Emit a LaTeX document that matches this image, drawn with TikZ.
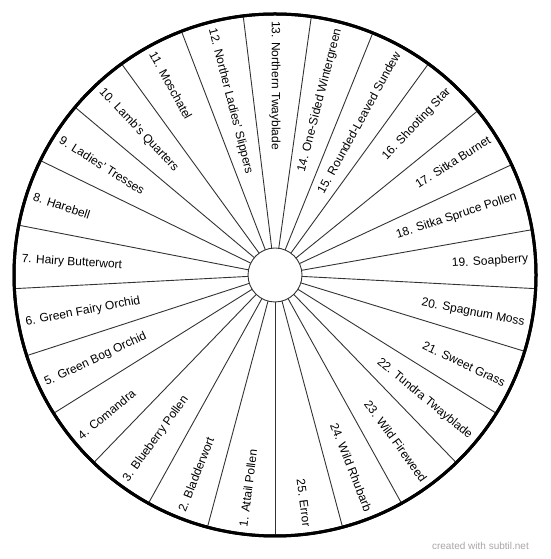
\documentclass[tikz,border=0pt]{standalone}
\usepackage{fontspec}
\setmainfont{Liberation Sans}
\usetikzlibrary{calc}
\begin{document}
\begin{tikzpicture}[x=1pt,y=1pt,
  lbl/.style={inner sep=0pt, font=\fontsize{12}{14}\selectfont},
  spoke/.style={draw=black!80, line width=0.9pt},
  ring/.style={circle, draw=black, inner sep=0pt, outer sep=0pt}]
\useasboundingbox (0,0) rectangle (550,559);
\coordinate (C) at (275,284);
\node[ring, draw=black!80, line width=0.9pt, minimum size=54pt] (hub) at (C) {};
\node[ring, line width=3pt, minimum size=522pt] (rim) at (C) {};
\foreach \j in {0,...,24}{
  \pgfmathsetmacro\a{270-14.4*\j}
  \draw[spoke] (hub.\a) -- (rim.\a);
}
\foreach \t [count=\k] in {1. Attail Pollen, 2. Bladderwort, 3. Blueberry Pollen, 4. Comandra,
  5. Green Bog Orchid, 6. Green Fairy Orchid, 7. Hairy Butterwort, 8. Harebell,
  9. Ladies’ Tresses, 10. Lamb’s Quarters, 11. Moschatel, 12. Norther Ladies’ Slippers,
  13. Northern Twayblade, 14. One-Sided Wintergreen, 15. Rounded-Leaved Sundew,
  16. Shooting Star, 17. Sitka Burnet, 18. Sitka Spruce Pollen, 19. Soapberry,
  20. Spagnum Moss, 21. Sweet Grass, 22. Tundra Twayblade, 23. Wild Fireweed,
  24. Wild Rhubarb, 25. Error}{
  \pgfmathsetmacro\a{262.8-14.4*(\k-1)}
  \pgfmathtruncatemacro\lft{\a>=89.9}
  \ifnum\lft=1
    \node[lbl, rotate=\a+180, anchor=west] (L\k) at ($(C)+(\a:254)$) {\t};
  \else
    \node[lbl, rotate=\a, anchor=east] (L\k) at ($(C)+(\a:254)$) {\t};
  \fi
}
\draw[ring, line width=3pt] (C) circle (261);
\node[anchor=east, inner sep=0pt, text=black!35, font=\fontsize{10}{12}\selectfont] (wm) at (529,13.3) {created with subtil.net};
\end{tikzpicture}
\end{document}
